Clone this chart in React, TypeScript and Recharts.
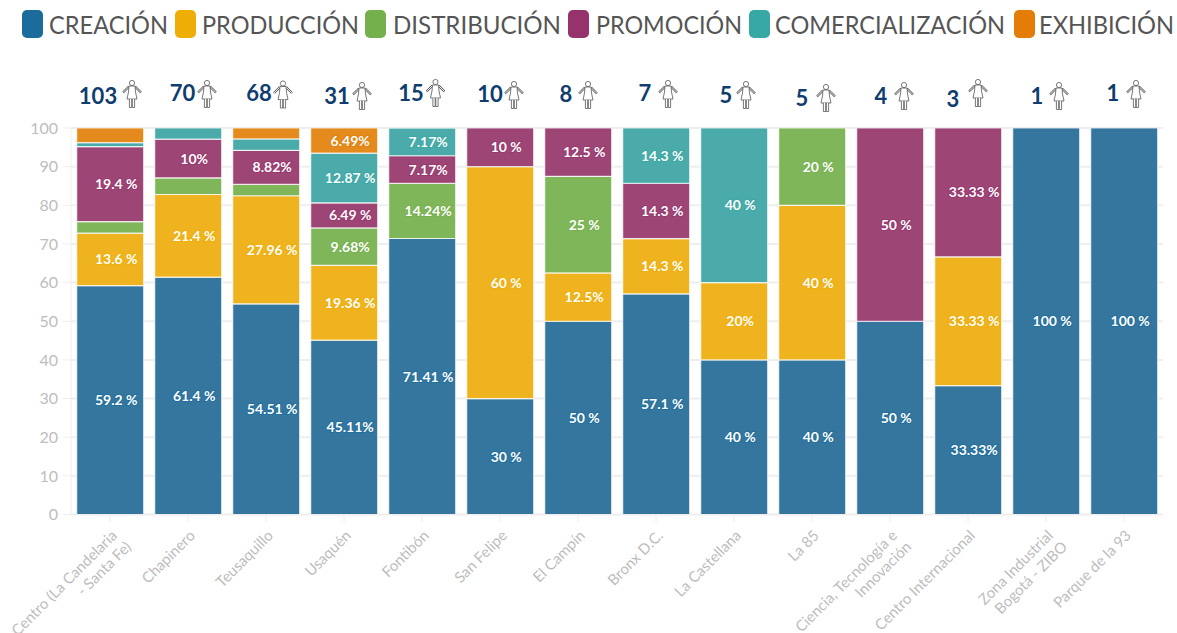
import React from "react";
import { BarChart, Bar, XAxis, YAxis, CartesianGrid, Legend, LabelList } from "recharts";

const categories = ["Centro (La Candelaria\n- Santa Fe)", "Chapinero", "Teusaquillo", "Usaquén", "Fontibón", "San Felipe", "El Campín", "Bronx D.C.", "La Castellana", "La 85", "Ciencia, Tecnología e\nInnovación", "Centro Internacional", "Zona Industrial\nBogotá - ZIBO", "Parque de la 93"];
const counts = [103, 70, 68, 31, 15, 10, 8, 7, 5, 5, 4, 3, 1, 1];
const yTicks = [0, 10, 20, 30, 40, 50, 60, 70, 80, 90, 100];

const creacion = [59.2, 61.4, 54.51, 45.11, 71.41, 30, 50, 57.1, 40, 40, 50, 33.33, 100, 100];
const produccion = [13.6, 21.4, 27.96, 19.36, 0, 60, 12.5, 14.3, 20, 40, 0, 33.33, 0, 0];
const distribucion = [3, 4.3, 2.94, 9.68, 14.24, 0, 25, 0, 0, 20, 0, 0, 0, 0];
const promocion = [19.4, 10, 8.82, 6.49, 7.17, 10, 12.5, 14.3, 0, 0, 50, 33.34, 0, 0];
const comercializacion = [1, 2.9, 2.94, 12.87, 7.17, 0, 0, 14.3, 40, 0, 0, 0, 0, 0];
const exhibicion = [3.8, 0, 2.83, 6.49, 0, 0, 0, 0, 0, 0, 0, 0, 0, 0];

const creacionLabels = ["59.2 %", "61.4 %", "54.51 %", "45.11%", "71.41 %", "30 %", "50 %", "57.1 %", "40 %", "40 %", "50 %", "33.33%", "100 %", "100 %"];
const produccionLabels = ["13.6 %", "21.4 %", "27.96 %", "19.36 %", "", "60 %", "12.5%", "14.3 %", "20%", "40 %", "", "33.33 %", "", ""];
const distribucionLabels = ["", "", "", "9.68%", "14.24%", "", "25 %", "", "", "20 %", "", "", "", ""];
const promocionLabels = ["19.4 %", "10%", "8.82%", "6.49 %", "7.17%", "10 %", "12.5 %", "14.3 %", "", "", "50 %", "33.33 %", "", ""];
const comercializacionLabels = ["", "", "", "12.87 %", "7.17%", "", "", "14.3 %", "40 %", "", "", "", "", ""];
const exhibicionLabels = ["", "", "", "6.49%", "", "", "", "", "", "", "", "", "", ""];

const seriesNames = ["CREACIÓN", "PRODUCCIÓN", "DISTRIBUCIÓN", "PROMOCIÓN", "COMERCIALIZACIÓN", "EXHIBICIÓN"];
const swatchColors = ["#1B6C9B", "#EFAE05", "#74B04C", "#96336D", "#37A8A4", "#E37D07"];
const barColors = ["#35769F", "#EEB31E", "#80B65A", "#9D4675", "#4AABAA", "#E58A1C"];
const seriesValues = [creacion, produccion, distribucion, promocion, comercializacion, exhibicion];
const seriesLabels = [creacionLabels, produccionLabels, distribucionLabels, promocionLabels, comercializacionLabels, exhibicionLabels];

// Layout of the legend and of the hand-placed count annotations
const legendSwatchX = [22, 175, 365, 568, 749, 1014];
const legendTextX = [49, 202, 393, 596, 775, 1039];
const legendTextW = [119, 157, 168, 146, 230, 135];
const countDx = [-12, -5.5, -7, -7, -11, -10, -12, -11, -8, -10, -9, -15, -9, -11];
const iconDx = [22, 19, 17, 18, 13.5, 14, 10, 12, 12, 14, 14, 10, 13, 12];
const countY = [96, 93, 93, 96, 93, 94, 94, 93, 95, 98, 96, 99, 96, 93];
const iconY = [94, 94, 94.5, 96, 93, 95, 95, 94, 95, 98, 96, 93, 96, 94];

const FONT = "Lato, 'Noto Sans', sans-serif";
const data = categories.map((name, i) => {
  const row: any = { name };
  seriesValues.forEach((v, s) => {
    row[`s${s}`] = v[i];
    row[`l${s}`] = seriesLabels[s][i];
  });
  return row;
});

const Woman = ({ cx, cy }: { cx: number; cy: number }) => (
  <g transform={`translate(${cx},${cy})`} fill="#fff" stroke="#555" strokeWidth={0.8} strokeLinejoin="round">
    <circle cx={0} cy={-11} r={2.6} />
    <path d="M-3,-7.5 L-9,-1.5 M3,-7.5 L9,-1.5" fill="none" strokeWidth={2.2} />
    <path d="M-3,-7.5 L-9,-1.5 M3,-7.5 L9,-1.5" fill="none" stroke="#fff" strokeWidth={0.9} />
    <path d="M-3,-8 L3,-8 L3.5,-2 L5,5 L-5,5 L-3.5,-2 Z" />
    <path d="M-2.6,5 V13.5 H-0.3 V5 M0.3,5 V13.5 H2.6 V5" />
  </g>
);

const CountTick = ({ x, index }: any) => (
  <g>
    <text x={x + countDx[index]} y={countY[index]} dy="0.36em" textAnchor="middle" fontFamily={FONT} fontSize={22} fontWeight={700} fill="#0F3D6E">{counts[index]}</text>
    <Woman cx={x + iconDx[index]} cy={iconY[index]} />
  </g>
);

const CategoryTick = ({ x, y, payload }: any) => {
  const lines = String(payload.value).split("\n");
  return (
    <g transform={`translate(${x + 8},${y + 12}) rotate(-45)`}>
      {lines.map((l, i) => (
        <text key={i} x={i * 2} y={i * 18} textAnchor="end" fontFamily={FONT} fontSize={15} fill="#BDBDBD">{l}</text>
      ))}
    </g>
  );
};

const makeLabel = (s: number) => ({ x, y, width, height, value }: any) => {
  if (!value) return null;
  return (
    <text x={x + width / 2 + 6} y={y + height / 2} dy="0.36em" textAnchor="middle" fontFamily={FONT} fontSize={14} fontWeight={700} fill="#fff" stroke={swatchColors[s]} strokeWidth={2} strokeOpacity={0.7} style={{ paintOrder: "stroke" }}>{value}</text>
  );
};

const LegendRow = () => (
  <svg width={1177} height={50} style={{ display: "block" }}>
    {seriesNames.map((n, i) => (
      <g key={n}>
        <rect x={legendSwatchX[i]} y={10} width={21} height={28} rx={5} fill={swatchColors[i]} />
        <text x={legendTextX[i]} y={33.5} fontFamily={FONT} fontSize={25} fill="#555" textLength={legendTextW[i]} lengthAdjust="spacingAndGlyphs">{n}</text>
      </g>
    ))}
  </svg>
);

export default function App() {
  return (
    <div style={{ position: "absolute", left: 0, top: 0, width: 1177, height: 633, background: "#fff", overflow: "hidden" }}>
      <BarChart width={1177} height={633} data={data} margin={{ top: 0, right: 14, bottom: 0, left: 0 }} barCategoryGap="7.3%">
        <CartesianGrid horizontal vertical={false} stroke="#EEEEEE" strokeWidth={2} />
        <XAxis xAxisId="top" orientation="top" dataKey="name" height={78} axisLine={false} tickLine={false} interval={0} tick={<CountTick />} />
        <XAxis xAxisId="bottom" dataKey="name" height={118.5} interval={0} tickSize={8} stroke="#EEEEEE" tick={<CategoryTick />} />
        <YAxis width={71} domain={[0, 100]} ticks={yTicks} interval={0} allowDataOverflow tickSize={8} stroke="#EEEEEE" tickMargin={5} tick={{ fontFamily: FONT, fontSize: 16, fill: "#BDBDBD" }} />
        <Legend verticalAlign="top" content={<LegendRow />} wrapperStyle={{ position: "absolute", left: 0, top: 0, width: 1177, height: 50 }} />
        {seriesValues.map((_, s) => (
          <Bar key={s} dataKey={`s${s}`} xAxisId="bottom" stackId="a" fill={barColors[s]} stroke="#fff" strokeOpacity={0.75} strokeWidth={1.2} isAnimationActive={false}>
            <LabelList dataKey={`l${s}`} content={makeLabel(s)} />
          </Bar>
        ))}
      </BarChart>
    </div>
  );
}
